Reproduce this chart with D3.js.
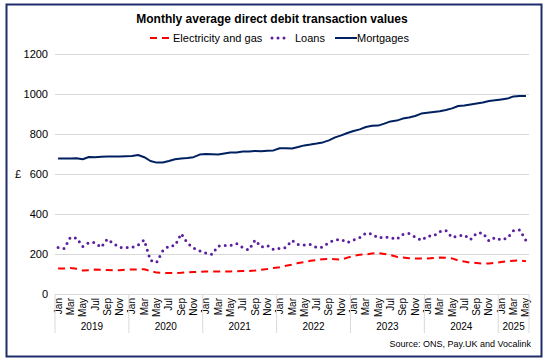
<!DOCTYPE html>
<html>
<head>
<meta charset="utf-8">
<script src="https://cdn.jsdelivr.net/npm/d3@7"></script>
<style>
  html, body { margin: 0; padding: 0; background: #fff; }
  svg { display: block; font-family: "Liberation Sans", Arial, sans-serif; }
</style>
</head>
<body>
<svg id="chart" width="547" height="361"></svg>
<script>
// ---- data ----
const title = "Monthly average direct debit transaction values";
const source = "Source: ONS, Pay.UK and Vocalink";
const years = [2019, 2020, 2021, 2022, 2023, 2024, 2025];
const monthNames = ["Jan","Feb","Mar","Apr","May","Jun","Jul","Aug","Sep","Oct","Nov","Dec"];
const lastYearMonths = 5; // data runs to May 2025
const yTicks = [0, 200, 400, 600, 800, 1000, 1200];
const seriesNames = ["Electricity and gas", "Loans", "Mortgages"];

const electricity = [
  127,127,130,126,118,119,122,121,120,119,119,121,
  123,123,124,115,107,106,105,105,106,108,110,111,
  113,113,113,113,113,114,115,115,117,121,125,130,
  134,141,146,155,160,166,170,174,175,174,172,182,
  190,196,198,202,205,200,195,186,182,179,178,177,
  177,180,182,181,178,168,162,157,155,152,152,156,
  160,164,166,168,164
];
const loans = [
  233,227,283,280,237,257,257,233,275,252,233,233,
  232,245,270,168,158,215,240,242,302,255,230,216,
  205,198,240,242,242,252,232,220,270,235,243,222,
  228,232,268,247,245,247,232,235,258,270,273,258,
  270,282,305,300,280,285,282,273,298,302,285,268,
  290,290,312,318,283,290,295,272,305,305,265,282,
  270,280,317,320,268
];
const mortgages = [
  677,677,678,679,674,685,684,686,687,688,688,689,
  690,695,684,665,657,658,665,674,678,680,684,697,
  700,699,698,703,708,708,713,712,715,714,716,718,
  729,729,728,735,743,747,752,758,768,783,793,805,
  815,823,835,841,842,852,863,867,877,883,890,902,
  906,910,914,920,928,940,942,948,953,958,965,969,
  973,977,988,990,990
];

// categories (year, month)
const categories = [];
years.forEach((y, yi) => {
  const n = yi === years.length - 1 ? lastYearMonths : 12;
  for (let m = 0; m < n; m++) categories.push({ key: y + "-" + m, year: y, month: monthNames[m], mi: m });
});

// ---- layout ----
const svg = d3.select("#chart");
const W = 547, H = 361;
const plot = { left: 55, right: 529, top: 54, bottom: 294 };

const x = d3.scaleBand().domain(categories.map(d => d.key)).range([plot.left, plot.right]).padding(0);
const y = d3.scaleLinear().domain([0, 1200]).range([plot.bottom, plot.top]);
const cx = i => x(categories[i].key) + x.bandwidth() / 2;

// border
svg.append("rect").attr("x", 6.5).attr("y", 4.5).attr("width", 535).attr("height", 352)
  .attr("fill", "#fff").attr("stroke", "#1f2d6b").attr("stroke-width", 2);

// title
svg.append("text").attr("x", 272).attr("y", 23).attr("text-anchor", "middle")
  .attr("font-size", 12).attr("font-weight", "bold").attr("fill", "#000").text(title);

// gridlines + y labels
const yAxis = d3.axisLeft(y).tickValues(yTicks).tickSize(-(plot.right - plot.left)).tickPadding(7).tickFormat(d3.format("d"));
const gy = svg.append("g").attr("transform", `translate(${plot.left},0)`).call(yAxis);
gy.select(".domain").remove();
gy.selectAll(".tick line").attr("stroke", "#d9d9d9").attr("stroke-width", 1);
gy.selectAll(".tick text").attr("font-size", 11).attr("fill", "#000")
  .attr("font-family", "Liberation Sans, Arial, sans-serif");

// £ label
svg.append("text").attr("x", 18).attr("y", y(600)).attr("dy", "0.35em").attr("text-anchor", "middle")
  .attr("font-size", 11).attr("fill", "#000").text("£");

// x axis: month labels
const xAxis = d3.axisBottom(x).tickValues(categories.filter(d => d.mi % 2 === 0).map(d => d.key))
  .tickSize(0).tickFormat(k => categories.find(c => c.key === k).month);
const gx = svg.append("g").attr("transform", `translate(0,${plot.bottom})`).call(xAxis);
gx.select(".domain").attr("stroke", "#d9d9d9");
gx.selectAll(".tick text").attr("font-size", 10).attr("fill", "#000")
  .attr("font-family", "Liberation Sans, Arial, sans-serif")
  .attr("transform", "rotate(-90)").attr("text-anchor", "end")
  .attr("x", -4).attr("y", 0).attr("dy", "0.35em");

// year separators and labels
const yearStarts = years.map(yr => categories.findIndex(c => c.year === yr));
const bounds = yearStarts.map(i => x(categories[i].key)).concat([plot.right]);
svg.append("g").selectAll("line").data(bounds).join("line")
  .attr("x1", d => d).attr("x2", d => d).attr("y1", plot.bottom).attr("y2", 333)
  .attr("stroke", "#d9d9d9").attr("stroke-width", 1);
svg.append("g").selectAll("text").data(years).join("text")
  .attr("x", (d, i) => (bounds[i] + bounds[i + 1]) / 2).attr("y", 330)
  .attr("text-anchor", "middle").attr("font-size", 10).attr("fill", "#000").text(d => d);

// lines
const line = d3.line().x((d, i) => cx(i)).y(d => y(d));
svg.append("path").datum(mortgages).attr("d", line).attr("fill", "none")
  .attr("stroke", "#002060").attr("stroke-width", 2).attr("stroke-linejoin", "round");
svg.append("path").datum(electricity).attr("d", line).attr("fill", "none")
  .attr("stroke", "#ff0000").attr("stroke-width", 2).attr("stroke-dasharray", "7,5");
svg.append("path").datum(loans).attr("d", line).attr("fill", "none")
  .attr("stroke", "#5b1f9e").attr("stroke-width", 3).attr("stroke-linecap", "round")
  .attr("stroke-dasharray", "0,6");

// legend
const lg = svg.append("g").attr("font-size", 11).attr("fill", "#000");
const ly = 38;
lg.append("line").attr("x1", 150).attr("x2", 170).attr("y1", ly).attr("y2", ly)
  .attr("stroke", "#ff0000").attr("stroke-width", 2).attr("stroke-dasharray", "7,5");
lg.append("text").attr("x", 173).attr("y", ly).attr("dy", "0.35em").text(seriesNames[0]);
lg.append("line").attr("x1", 272).attr("x2", 290).attr("y1", ly).attr("y2", ly)
  .attr("stroke", "#5b1f9e").attr("stroke-width", 3).attr("stroke-linecap", "round").attr("stroke-dasharray", "0,6");
lg.append("text").attr("x", 295).attr("y", ly).attr("dy", "0.35em").text(seriesNames[1]);
lg.append("line").attr("x1", 335).attr("x2", 357).attr("y1", ly).attr("y2", ly)
  .attr("stroke", "#002060").attr("stroke-width", 2);
lg.append("text").attr("x", 357).attr("y", ly).attr("dy", "0.35em").text(seriesNames[2]);

// source
svg.append("text").attr("x", 531).attr("y", 347).attr("text-anchor", "end")
  .attr("font-size", 9).attr("fill", "#000").text(source);
</script>
</body>
</html>
